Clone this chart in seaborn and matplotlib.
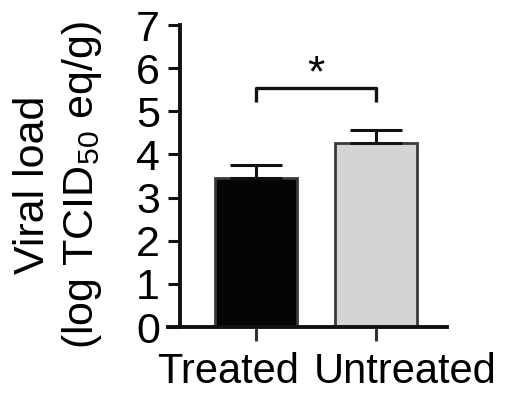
import pandas as pd
import seaborn as sns
import matplotlib.pyplot as plt
from matplotlib.transforms import ScaledTranslation

# Values
groups = ["Treated", "Untreated"]
means = [3.45, 4.27]
sems = [0.31, 0.30]
bar_colors = ["#050505", "#d4d4d4"]

df = pd.DataFrame({"group": groups, "load": means})

sns.set_style("ticks")
plt.rcParams["font.family"] = ["Liberation Sans", "DejaVu Sans"]
plt.rcParams["mathtext.default"] = "regular"
plt.rcParams["text.color"] = "black"
plt.rcParams["axes.labelcolor"] = "black"
plt.rcParams["xtick.labelcolor"] = "black"
plt.rcParams["ytick.labelcolor"] = "black"

fig = plt.figure(figsize=(5.06, 3.94), dpi=100)
ax = fig.add_axes([0.332, 0.170, 0.551, 0.7665])

sns.barplot(data=df, x="group", y="load", hue="group", palette=bar_colors,
            errorbar=None, width=0.68, edgecolor="#3a3a3a", linewidth=2,
            legend=False, ax=ax)

# upper-only error bars, Prism style
ax.errorbar(range(len(groups)), means, yerr=[[0] * len(sems), sems],
            fmt="none", ecolor="#111111", elinewidth=2.2, capsize=19, capthick=2.2)

# significance bracket
bracket_y = 5.55
ax.plot([0, 0, 1, 1], [bracket_y - 0.33, bracket_y, bracket_y, bracket_y - 0.33],
        color="#111111", lw=2.4, solid_capstyle="butt")
ax.text(0.5, bracket_y + 0.02, "*", ha="center", va="baseline", fontsize=32)

ax.set_ylim(0, 7)
ax.set_xlim(-0.73, 1.59)
ax.set_yticks(range(0, 8))
sns.despine(ax=ax)
ax.spines["left"].set_position(("data", -0.63))
for side in ["left", "bottom"]:
    ax.spines[side].set_linewidth(2.8)
    ax.spines[side].set_color("#111111")

ax.tick_params(axis="y", direction="out", length=8.5, width=2.2, pad=6, labelsize=31, color="#111111")
ax.tick_params(axis="x", direction="out", length=10, width=2.2, pad=8, labelsize=30, color="#333333")

# labels sit spread apart under the bars
shifts = [-20, 21]
for lab, dx in zip(ax.get_xticklabels(), shifts):
    lab.set_transform(lab.get_transform() + ScaledTranslation(dx / 72, 0, fig.dpi_scale_trans))

ax.set_xlabel("")
ax.set_ylabel("Viral load\n(log TCID$_{50}$ eq/g)", fontsize=31, linespacing=1.2)
ax.yaxis.set_label_coords(-0.23, 0.47)

fig.savefig("out.png", dpi=100)
